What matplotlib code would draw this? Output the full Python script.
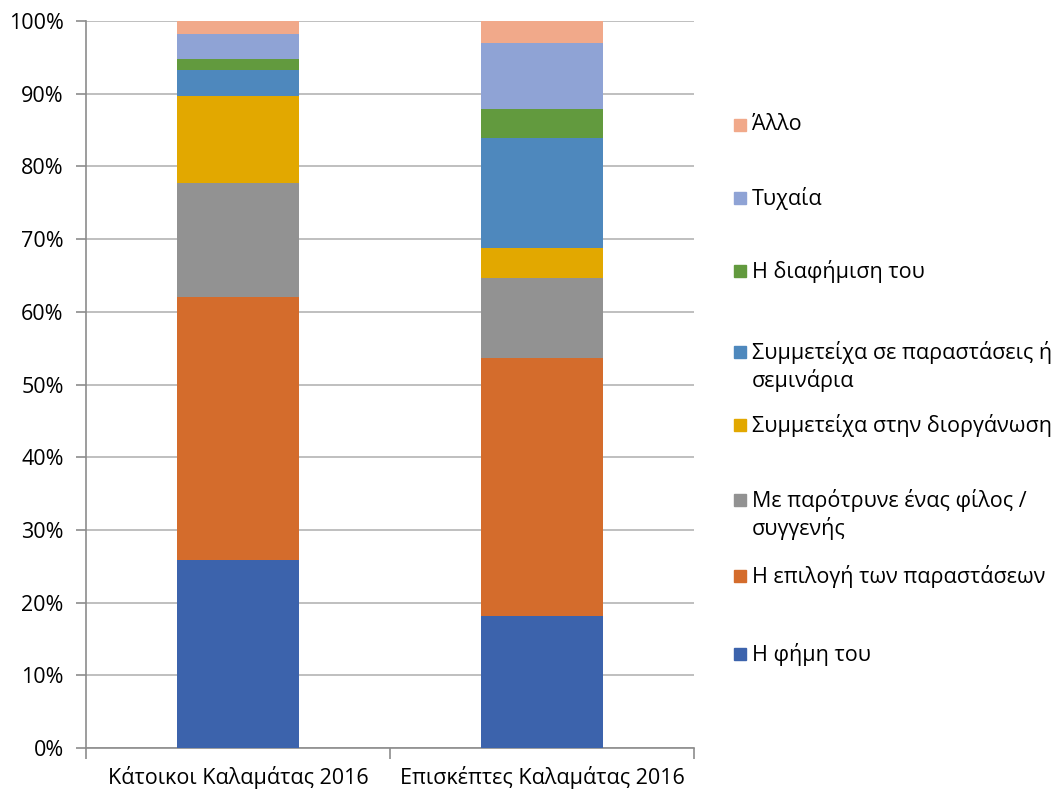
import matplotlib.pyplot as plt
from matplotlib.patches import Rectangle
import numpy as np

plt.rcParams['font.family'] = ['Open Sans', 'DejaVu Sans']

categories = ["Κάτοικοι Καλαμάτας 2016", "Επισκέπτες Καλαμάτας 2016"]
series_names = [
    "Η φήμη του",
    "Η επιλογή των παραστάσεων",
    "Με παρότρυνε ένας φίλος /\nσυγγενής",
    "Συμμετείχα στην διοργάνωση",
    "Συμμετείχα σε παραστάσεις ή\nσεμινάρια",
    "Η διαφήμιση του",
    "Τυχαία",
    "Άλλο",
]
fame = [25.9, 18.2]
program = [36.1, 35.4]
friend = [15.7, 11.1]
organise = [12.0, 4.1]
participated = [3.5, 15.1]
advert = [1.6, 4.0]
random_ = [3.4, 9.1]
other = [1.8, 3.0]
series_values = [fame, program, friend, organise, participated, advert, random_, other]
colors = ["#3C63AC", "#D46C2C", "#929292", "#E2A800", "#4E88BD",
          "#629A3E", "#8FA3D5", "#F1A98A"]

fig = plt.figure(figsize=(10.64, 7.93), dpi=100)
ax = fig.add_axes([0.0808, 0.0567, 0.5715, 0.9168])

x = np.arange(len(categories))
bottom = np.zeros(len(categories))
for vals, col in zip(series_values, colors):
    ax.bar(x, vals, 0.4, bottom=bottom, color=col, zorder=3)
    bottom += np.array(vals)

ax.set_xlim(-0.5, 1.5)
ax.set_ylim(0, 100)
ax.set_yticks(np.arange(0, 101, 10))
ax.set_yticklabels([f"{v}%" for v in range(0, 101, 10)], fontsize=15.5)
ax.yaxis.grid(True, color="#B4B4B4", linewidth=1.2, zorder=0)

ax.set_xticks([-0.5, 0.5, 1.5])
ax.set_xticklabels([])
ax.set_xticks(x, minor=True)
ax.set_xticklabels(categories, minor=True, fontsize=15.5)
ax.tick_params(axis="x", which="minor", length=0, pad=13)
ax.tick_params(axis="x", which="major", length=8, color="#8C8C8C", width=1.2)
ax.tick_params(axis="y", length=7, color="#8C8C8C", width=1.2, pad=9)

for s in ["top", "right"]:
    ax.spines[s].set_visible(False)
for s in ["left", "bottom"]:
    ax.spines[s].set_color("#8C8C8C")
    ax.spines[s].set_linewidth(1.2)

# manual legend, reversed order like the original
legend_y = [125, 198, 271, 352, 425, 500, 576, 654]
W, H = 1064, 793
for name, col, yp in zip(series_names[::-1], colors[::-1], legend_y):
    fig.patches.append(Rectangle((734 / W, 1 - (yp + 6) / H), 12 / W, 12 / H,
                                 transform=fig.transFigure, color=col))
    fig.text(752 / W, 1 - (yp - 11) / H, name, fontsize=15.5, va="top",
             ha="left", linespacing=1.3)

fig.savefig("out.png", dpi=100)
